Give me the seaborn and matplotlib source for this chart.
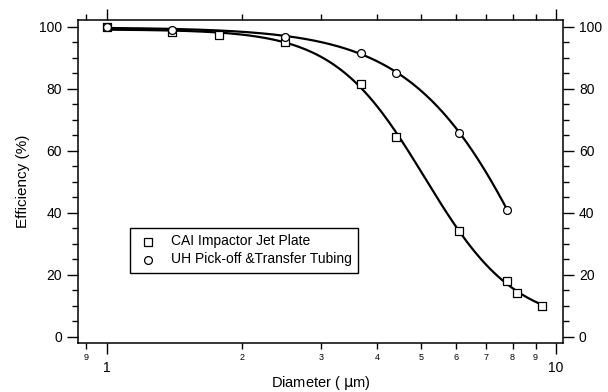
import numpy as np
import pandas as pd
import seaborn as sns
import matplotlib.pyplot as plt
from matplotlib.ticker import FixedLocator, FixedFormatter

# data
cai_d = [1.0, 1.40, 1.78, 2.50, 3.69, 4.40, 6.09, 7.79, 8.18, 9.29]
cai_eff = [99.8, 98.4, 97.3, 95.2, 81.7, 64.3, 34.2, 18.1, 14.2, 10.0]
uh_d = [1.0, 1.40, 2.50, 3.69, 4.40, 6.09, 7.79]
uh_eff = [100.0, 99.1, 96.6, 91.7, 85.2, 65.9, 40.9]
cai_label = 'CAI Impactor Jet Plate'
uh_label = 'UH Pick-off &Transfer Tubing'


def fit_curve(x, y):
    # logistic in log-diameter: E = a/(1+(x/d50)^b) + c, least squares
    x = np.asarray(x)
    y = np.asarray(y)
    best = None
    for d50 in np.linspace(2, 14, 241):
        for b in np.linspace(1, 12, 221):
            g = 1 / (1 + (x / d50) ** b)
            A = np.column_stack([g, np.ones_like(g)])
            coef = np.linalg.lstsq(A, y, rcond=None)[0]
            err = np.sum((A @ coef - y) ** 2)
            if best is None or err < best[0]:
                best = (err, d50, b, coef)
    _, d50, b, coef = best
    xs = np.geomspace(x.min(), x.max(), 200)
    ys = coef[0] / (1 + (xs / d50) ** b) + coef[1]
    return pd.DataFrame({'d': xs, 'eff': ys})


sns.set_style('ticks')
plt.rcParams['font.family'] = ['Liberation Sans', 'DejaVu Sans']
plt.rcParams['text.color'] = 'black'
plt.rcParams['axes.labelcolor'] = 'black'
plt.rcParams['xtick.color'] = 'black'
plt.rcParams['ytick.color'] = 'black'

fig = plt.figure(figsize=(6.08, 3.92), dpi=100)
ax = fig.add_axes([0.128, 0.125, 0.798, 0.824])

cai_fit = fit_curve(cai_d, cai_eff)
uh_fit = fit_curve(uh_d, uh_eff)
sns.lineplot(data=cai_fit, x='d', y='eff', color='black', lw=1.6, ax=ax, legend=False)
sns.lineplot(data=uh_fit, x='d', y='eff', color='black', lw=1.6, ax=ax, legend=False)

sns.scatterplot(x=cai_d, y=cai_eff, marker='s', s=36, facecolor='white',
                edgecolor='black', linewidth=0.9, ax=ax, label=cai_label, zorder=3)
sns.scatterplot(x=uh_d, y=uh_eff, marker='o', s=32, facecolor='white',
                edgecolor='black', linewidth=0.9, ax=ax, label=uh_label, zorder=3)

ax.set_xscale('log')
ax.set_xlim(0.863, 10.36)
ax.set_ylim(-2, 102.2)

# x ticks: majors 1 and 10, minors labelled small
ax.xaxis.set_major_locator(FixedLocator([1, 10]))
ax.xaxis.set_major_formatter(FixedFormatter(['1', '10']))
minors = [0.9, 2, 3, 4, 5, 6, 7, 8, 9]
ax.xaxis.set_minor_locator(FixedLocator(minors))
ax.xaxis.set_minor_formatter(FixedFormatter(['9', '2', '3', '4', '5', '6', '7', '8', '9']))
ax.tick_params(axis='x', which='major', length=8, width=1, labelsize=10, pad=5,
               top=True, direction='out')
ax.tick_params(axis='x', which='minor', length=4, width=1, labelsize=6.5, pad=3,
               top=True, direction='out')

ax.set_yticks([0, 20, 40, 60, 80, 100])
ax.set_yticks(np.arange(5, 101, 5), minor=True)
ax.tick_params(axis='y', which='major', length=8, width=1, labelsize=10,
               right=True, labelright=True, direction='out')
ax.tick_params(axis='y', which='minor', length=4, width=1, right=True, direction='out')

for side in ['left', 'right', 'top', 'bottom']:
    ax.spines[side].set_visible(True)
    ax.spines[side].set_linewidth(1.1)
    ax.spines[side].set_color('black')

ax.set_xlabel('Diameter ( $\\mathrm{\\mu}$m)', fontsize=10.5, labelpad=-1)
ax.set_ylabel('Efficiency (%)', fontsize=11, labelpad=6)

leg = ax.legend(loc='lower left', bbox_to_anchor=(0.107, 0.218), borderaxespad=0,
                fancybox=False, edgecolor='black', framealpha=1, fontsize=10,
                handletextpad=0.7, borderpad=0.45, labelspacing=0.3, handlelength=1.8)
leg.get_frame().set_linewidth(1.0)

fig.savefig('out.png', dpi=100)
